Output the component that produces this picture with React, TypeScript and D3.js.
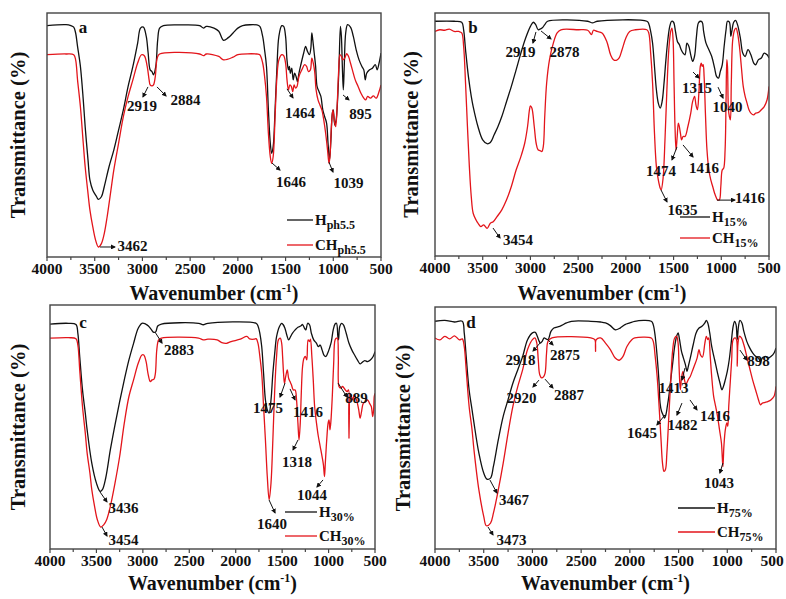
import React from 'react';
import * as d3 from 'd3';

type Pt = [number, number];
// [wavenumber (cm-1), transmittance (relative %)]
const aH: Pt[] = [[4000,94.8],[3800,95.2],[3750,94.8],[3720,94.2],[3700,91.8],[3680,86.3],[3650,78.1],[3620,64.4],[3600,53.4],[3570,39.7],[3550,31.5],[3520,27.4],[3480,24.7],[3462,23.6],[3430,24.7],[3400,28.8],[3350,37],[3300,43.8],[3250,52],[3200,60.3],[3150,69.9],[3100,78.1],[3050,87.7],[3020,93.8],[2990,94.2],[2960,90.4],[2940,83.6],[2919,76.7],[2900,76],[2884,74.7],[2860,78.1],[2840,89],[2820,93.8],[2780,94.8],[2600,95.1],[2400,94.8],[2360,93.8],[2330,94.5],[2250,93.8],[2200,92.5],[2150,88.8],[2100,89.9],[2050,91.8],[2000,93.8],[1950,94.8],[1800,95.1],[1770,94.5],[1740,90.4],[1720,84.9],[1700,78.1],[1680,60.3],[1660,46.6],[1646,42.5],[1630,45.2],[1610,60.3],[1590,78.1],[1570,90.4],[1540,94.8],[1520,94.5],[1500,90.4],[1485,80.8],[1470,76.7],[1460,78.1],[1450,75.3],[1435,77.4],[1420,72.6],[1405,75.3],[1390,74],[1375,71.9],[1360,75.3],[1340,78.8],[1310,83.6],[1290,86.3],[1270,84.2],[1250,82.9],[1235,85.6],[1225,91.8],[1215,89],[1200,83.6],[1185,78.1],[1170,69.9],[1150,67.8],[1130,65.8],[1110,60.3],[1090,57.5],[1070,54.8],[1055,46.6],[1040,39.7],[1025,47.9],[1010,58.9],[1000,60.3],[985,54.1],[970,56.2],[955,64.4],[940,78.1],[925,94.5],[915,90.4],[905,78.1],[895,68.5],[885,78.1],[870,91.8],[850,95.2],[820,94.2],[790,90.4],[760,84.9],[730,80.8],[700,78.1],[680,76.7],[665,72.6],[650,75.3],[620,76.7],[590,77.4],[560,78.8],[540,76.7],[520,79.5],[500,83.6]];
const aCH: Pt[] = [[4000,82.9],[3800,83.2],[3720,82.9],[3700,80.8],[3680,72.6],[3650,61.6],[3620,46.6],[3600,37],[3570,26],[3550,19.2],[3520,12.3],[3490,6.8],[3462,4.1],[3430,5.5],[3400,9.6],[3370,16.4],[3330,27.4],[3300,35.6],[3250,46.6],[3200,57.5],[3150,65.8],[3100,72.6],[3050,79.5],[3010,82.9],[2980,82.5],[2950,78.1],[2930,72.6],[2919,70.5],[2900,70.1],[2884,70.5],[2865,74],[2845,81.5],[2820,83.2],[2400,83.2],[2360,82.5],[2330,83.2],[2200,82.2],[2150,80.8],[2050,81.9],[2000,82.9],[1800,83.2],[1770,82.9],[1740,79.5],[1720,74],[1700,65.8],[1680,50.7],[1660,41.1],[1646,38.4],[1630,41.1],[1610,57.5],[1590,74],[1570,80.8],[1540,82.9],[1520,82.5],[1500,79.5],[1485,72.6],[1470,68.5],[1455,70.5],[1440,69.9],[1425,67.8],[1410,70.5],[1395,69.2],[1380,69.9],[1360,74],[1330,76.7],[1300,78.8],[1280,78.1],[1260,76],[1240,76.7],[1225,81.5],[1210,79.5],[1195,76],[1180,68.5],[1160,64.4],[1140,62.3],[1120,60.3],[1100,56.2],[1080,50.7],[1060,43.8],[1045,38.4],[1035,41.1],[1020,53.4],[1005,60.3],[990,56.2],[975,53.4],[960,61.6],[945,75.3],[930,82.9],[915,82.2],[900,80.8],[880,81.5],[860,83.3],[840,82.2],[820,79.5],[800,76.7],[770,72.6],[740,69.9],[710,67.1],[680,65.1],[660,64.4],[640,65.8],[610,65.1],[580,66],[550,65.1],[520,67.8],[500,70.5]];

const bH: Pt[] = [[4000,96.6],[3800,96.6],[3720,96.2],[3700,93.1],[3680,84.9],[3650,73.9],[3620,65.7],[3600,61.5],[3550,53.3],[3500,47.8],[3454,46.2],[3420,46.7],[3380,49.9],[3340,53.3],[3300,57.4],[3250,63.6],[3200,69.8],[3150,76.6],[3100,83.5],[3050,89.7],[3000,94.5],[2970,96.2],[2945,95.2],[2919,93.1],[2900,93.4],[2878,93.8],[2850,95.2],[2820,96.6],[2400,96.6],[2350,95.9],[2300,96.6],[1780,96.6],[1760,95.6],[1740,92.4],[1720,87.6],[1700,78],[1680,68.4],[1660,62.9],[1640,60.9],[1620,63.6],[1600,71.2],[1580,80.8],[1560,89],[1540,94.5],[1520,96.6],[1500,96.2],[1480,92.4],[1460,88.3],[1440,87],[1420,84.9],[1400,83.5],[1380,82.8],[1360,87.6],[1340,86.3],[1320,82.8],[1300,80.1],[1280,82.3],[1260,90.4],[1240,95.9],[1220,96.6],[1200,96.2],[1185,92.4],[1160,87.6],[1130,84.9],[1100,82.1],[1070,77.3],[1050,73.9],[1030,73.2],[1010,76],[990,78.7],[970,86.3],[950,93.1],[935,96.6],[915,96.2],[900,90.4],[890,92.4],[870,96.2],[850,97],[830,95.2],[800,89.7],[775,83.5],[750,82.1],[720,84.9],[690,82.8],[660,79.4],[640,78.7],[610,80.8],[580,81.5],[550,83.5],[520,82.8],[500,81.5]];
const bCH: Pt[] = [[4000,92.4],[3950,93.1],[3900,92.9],[3850,93.4],[3800,92.4],[3750,92.4],[3720,91.8],[3700,86.3],[3680,71.2],[3660,53.3],[3640,36.8],[3620,24.5],[3600,17.6],[3570,14.8],[3550,13.5],[3520,12.1],[3490,12.8],[3454,11.4],[3420,13.5],[3390,14.1],[3350,16.2],[3300,19],[3250,23.1],[3200,28.6],[3150,35.4],[3100,40.9],[3060,46.4],[3030,53.3],[3010,60.2],[3000,61.8],[2985,60.9],[2960,53.3],[2940,46.4],[2920,43.7],[2900,43.4],[2880,43],[2865,45.1],[2850,57.4],[2830,71.2],[2800,80.8],[2760,87.6],[2720,91.8],[2680,93.1],[2500,93.1],[2400,92.9],[2360,91.1],[2340,92.9],[2300,92.4],[2250,91.8],[2200,88.3],[2160,82.8],[2130,80.8],[2100,80.5],[2070,81.5],[2040,84.9],[2000,89.7],[1960,92.4],[1900,93.1],[1780,93.1],[1760,91.8],[1740,83.5],[1720,71.2],[1700,50.5],[1680,36.8],[1660,31.3],[1640,27.9],[1630,27.2],[1610,32],[1590,47.8],[1570,68.4],[1550,84.9],[1530,92.4],[1517,93.8],[1505,88.9],[1495,71.2],[1485,53.3],[1474,43.7],[1462,49.2],[1450,54.7],[1440,53.3],[1428,50.5],[1416,47.8],[1400,49.2],[1380,49.2],[1350,53.3],[1320,58.8],[1300,63.6],[1280,65.7],[1265,62.1],[1250,60.2],[1235,67],[1220,78],[1210,79.4],[1200,78],[1190,78.7],[1180,73.9],[1165,57.4],[1150,43.7],[1130,35.4],[1110,31.3],[1090,28.6],[1070,25.8],[1050,23.8],[1040,23.1],[1020,23.1],[1005,28.6],[990,35.4],[975,36.1],[960,43.7],[950,64.3],[942,80.8],[935,78],[925,60.2],[915,57.4],[905,56],[895,71.2],[880,89],[860,93.1],[845,93.8],[830,91.8],[810,86.3],[790,78],[770,69.8],[750,65.7],[730,62.9],[710,60.2],[690,58.8],[660,58.1],[640,58.8],[610,59.1],[580,60.2],[550,61.5],[520,64.3],[500,69.8]];

const cH: Pt[] = [[4000,92.2],[3800,92.5],[3720,92],[3700,88.4],[3680,78.9],[3650,65.2],[3620,55.7],[3600,48.8],[3550,35.2],[3500,27],[3460,23.6],[3436,24.3],[3400,29.1],[3350,40.7],[3300,50.9],[3250,60.4],[3200,69.3],[3150,77.5],[3100,84.3],[3050,90.5],[3010,92.5],[2970,92.2],[2940,91.4],[2910,90],[2883,88.8],[2860,89.1],[2840,91.4],[2800,92.2],[2400,92.5],[2350,91.9],[2300,92.5],[1780,92.5],[1760,91.4],[1740,88.4],[1720,83],[1700,72],[1680,61.1],[1660,57],[1640,55.7],[1620,61.1],[1600,72],[1580,80.2],[1560,87],[1530,91.1],[1505,92.5],[1490,92],[1470,90.5],[1450,87.7],[1430,85.7],[1410,87],[1390,88.4],[1360,89.8],[1330,90.9],[1300,91.4],[1280,92],[1260,90.5],[1245,89.8],[1225,92.5],[1205,91.9],[1185,88.4],[1160,85.7],[1130,84.3],[1110,82.9],[1090,83.6],[1070,81.6],[1050,79.5],[1030,78.9],[1010,80.2],[990,82.3],[970,85],[950,89.8],[930,92.2],[915,92.5],[900,87.1],[893,85.7],[880,91.1],[860,92.5],[840,91.9],[810,88.4],[780,84.3],[750,81.6],[720,79.5],[690,77.5],[660,75.9],[640,76.4],[610,77.2],[580,76.8],[550,77.5],[520,78.9],[500,80.9]];
const cCH: Pt[] = [[4000,86.4],[3800,86.6],[3720,86.2],[3700,83.6],[3680,73.4],[3650,58.4],[3620,47.5],[3600,39.3],[3570,31.1],[3550,24.3],[3520,17.5],[3490,12],[3454,9],[3420,10],[3390,12],[3350,17.5],[3300,27],[3250,37.9],[3200,51.6],[3150,62.5],[3100,69.3],[3050,76.1],[3010,79.5],[2990,79.5],[2965,76.8],[2945,72],[2920,68.6],[2900,69.3],[2880,69.6],[2865,72],[2850,81.6],[2830,85.7],[2800,86.4],[2400,86.4],[2350,85.7],[2300,86],[2200,85.7],[2150,84.6],[2100,84.3],[2050,85],[1950,86],[1880,87.1],[1850,86.1],[1800,86],[1780,86.2],[1760,84.3],[1740,78.9],[1720,72],[1700,58.4],[1680,44.7],[1660,29.7],[1640,20.2],[1620,27],[1600,44.7],[1580,65.2],[1560,78.9],[1540,85.7],[1520,86.4],[1505,84.3],[1495,78.9],[1485,72],[1475,67.9],[1462,70.6],[1445,73.4],[1430,70],[1415,68.6],[1400,67.3],[1380,65.2],[1360,65.2],[1345,61.1],[1330,51.6],[1318,44.7],[1305,51.6],[1295,62.5],[1280,74.8],[1265,78.2],[1250,78.9],[1235,77.5],[1220,85.7],[1205,85],[1195,86],[1180,78.9],[1165,69.3],[1150,58.4],[1130,51.6],[1110,46.1],[1090,42],[1070,37.9],[1055,34.4],[1044,29.7],[1035,35.2],[1020,44.7],[1005,51.6],[995,52.9],[985,48.8],[975,52.3],[960,62.5],[945,76.1],[930,85.7],[915,86.4],[905,86.4],[895,78.9],[888,66.6],[870,65.9],[850,66.6],[820,65.2],[800,64.5],[785,65.2],[780,45.4],[774,63.8],[760,63.1],[740,61.1],[725,63.1],[705,61.7],[690,59.8],[675,57],[660,53.6],[645,56.3],[625,59.8],[600,60.4],[580,61.1],[560,59.8],[540,58.4],[525,54.3],[515,57],[508,62.5],[500,63.8]];

const dH: Pt[] = [[4000,94.1],[3900,94.5],[3800,93.8],[3720,94.1],[3700,89.3],[3680,79.6],[3650,65.8],[3620,57.6],[3600,52.1],[3550,39.7],[3500,31.4],[3467,28.9],[3430,29.3],[3400,34.2],[3350,45.2],[3300,54.8],[3250,61.7],[3200,68.6],[3150,74.1],[3100,79.6],[3050,86.5],[3000,89.3],[2970,89.5],[2950,87.9],[2930,85.8],[2918,85.1],[2900,85.8],[2880,87.2],[2860,86.8],[2840,86.5],[2810,89.9],[2780,91.3],[2720,92],[2650,93.4],[2600,94.1],[2400,94.1],[2300,93.8],[2250,93.4],[2200,92.3],[2150,90.6],[2100,91.3],[2050,92.7],[2000,93.4],[1950,94.1],[1780,94.1],[1760,92.7],[1740,87.9],[1720,79.6],[1700,68.6],[1690,60.3],[1675,56.9],[1660,55.5],[1645,54.1],[1630,55.5],[1615,59],[1600,63.1],[1580,70],[1560,76.9],[1540,83.7],[1520,87.9],[1505,89.3],[1490,86.5],[1470,81.7],[1450,78.9],[1430,76.2],[1413,73.4],[1400,75.5],[1380,78.9],[1350,84.4],[1320,89.3],[1290,91.3],[1260,92],[1230,93.4],[1215,94.5],[1200,93.4],[1180,89.3],[1160,83.7],[1130,78.2],[1100,72.7],[1075,68.6],[1055,65.8],[1040,67.1],[1020,70],[1000,73.4],[980,78.2],[960,85.1],[940,92],[925,94.1],[910,92.7],[898,86.5],[885,92],[870,94.5],[850,93.4],[830,89.9],[800,85.8],[770,83.1],[740,81],[710,79.6],[680,78.9],[660,77.5],[640,78.9],[610,79.6],[580,78.9],[550,79.6],[520,81],[500,83.1]];
const dCH: Pt[] = [[4000,87.2],[3950,86.4],[3900,87.9],[3850,86.8],[3800,88.1],[3750,86.4],[3720,86.8],[3700,83.7],[3680,74.1],[3650,59],[3620,49.3],[3600,41],[3550,24.5],[3500,13.5],[3473,9.6],[3430,10.7],[3400,14.9],[3350,24.5],[3300,35.5],[3250,47.9],[3200,59],[3150,67.2],[3100,74.1],[3050,82.4],[3000,86.5],[2975,87.2],[2955,85.1],[2940,78.2],[2925,72],[2905,70.7],[2887,71.1],[2870,72.7],[2855,81],[2840,85.8],[2800,87.2],[2400,87.2],[2360,86.5],[2352,81.7],[2345,86.5],[2300,87.2],[2250,85.1],[2200,82.4],[2150,78.9],[2110,78],[2070,79.6],[2030,83.7],[1980,86.5],[1950,87.2],[1780,87.2],[1760,85.8],[1740,79.6],[1720,71.3],[1700,59],[1680,45.2],[1665,35.5],[1650,32.1],[1635,32.8],[1620,39.7],[1600,54.8],[1580,70],[1560,82.4],[1540,87.2],[1520,87.9],[1505,85.1],[1495,75.5],[1482,65.8],[1470,70.7],[1455,73.4],[1440,70],[1425,67.9],[1416,68.6],[1400,70],[1380,71.3],[1360,73.4],[1340,75.5],[1310,78.9],[1290,82.4],[1275,80.2],[1255,79.3],[1230,85.1],[1215,87.9],[1200,86.5],[1190,87.2],[1175,79.6],[1160,71.3],[1140,63.1],[1120,59],[1100,54.8],[1080,49.3],[1060,43.8],[1045,34],[1035,42.3],[1020,49.3],[1005,52.1],[995,50.7],[985,59],[970,68.6],[955,78.2],[940,86.5],[920,87.2],[905,86.5],[898,75.5],[890,85.1],[875,87.9],[855,87.2],[830,84.4],[800,79.6],[770,74.7],[740,69.9],[710,65.8],[680,61.7],[660,59.6],[640,60.3],[610,60.6],[580,61],[550,61.7],[520,63.1],[500,67.2]];

const xTicks = [4000, 3500, 3000, 2500, 2000, 1500, 1000, 500];
const xTickLabels = ['4000', '3500', '3000', '2500', '2000', '1500', '1000', '500'];
const minorTicks = [3750, 3250, 2750, 2250, 1750, 1250, 750];

// [label, wavenumber, value, arrow head dx, dy, text dx, dy]
type Ann = [string, number, number, number, number, number, number];
const aAnn: Ann[] = [
  ['2919', 2942, 69.7, -5, 10, -6, 24],
  ['2884', 2847, 69.7, 9, 9, 28.5, 18],
  ['1464', 1485, 68.9, 6, 9, 13, 29],
  ['895', 898, 66.4, 6, 5, 17.5, 24],
  ['1646', 1642, 38.5, 8, 7, 19, 24],
  ['1039', 1045, 38.9, 4, 10, 19.5, 26],
  ['3462', 3445, 4.1, 15, 0, 32.5, 4],
];
const bAnn: Ann[] = [
  ['2919', 2942, 92.2, -3, 11, -15.5, 25],
  ['2878', 2889, 92.6, 10, 8, 23.5, 26],
  ['1315', 1296, 75.7, 6, 6, 4, 21],
  ['1040', 1034, 69.5, 5, 11, 9.5, 25],
  ['1474', 1464, 44.9, -5, 13, -16, 29],
  ['1416', 1401, 45.7, 10, 12, 21, 28],
  ['1635', 1632, 27.2, 6, 12, 21.5, 25],
  ['1416', 1045, 23, 18, 0, 33, 3],
  ['3454', 3392, 11.5, 7, 10, 25, 17],
];
const cAnn: Ann[] = [
  ['2883', 2869, 88.9, 7, 11, 24, 23],
  ['3436', 3462, 23.4, 7, 10, 23.5, 21],
  ['3454', 3440, 9, 5, 9, 21.5, 18],
  ['1475', 1469, 68, -5, 14, -17, 30],
  ['1416', 1415, 65.6, 5, 11, 18, 28],
  ['1318', 1329, 44.7, -5, 10, -1, 27],
  ['1044', 1060, 28.3, -6, 7, -11, 20],
  ['889', 898, 68, 9, 14, 18.5, 20],
  ['1640', 1641, 20.1, 6, 13, 3, 29],
];
const dAnn: Ann[] = [
  ['2918', 2922, 85.1, -7, 8, -19.5, 22],
  ['2875', 2850, 86.8, 6, 6, 18, 21],
  ['2920', 2933, 69.8, -6, 7, -17.5, 23],
  ['2887', 2871, 70.2, 8, 9, 24, 21],
  ['3467', 3436, 28.5, 7, 13, 24, 25],
  ['3473', 3456, 9.1, 5, 8, 23.5, 18],
  ['1645', 1640, 55.4, -8, 10, -23, 23],
  ['1413', 1434, 74.8, -3, 12, -11.5, 25],
  ['1482', 1465, 60.3, -5, 12, 0.5, 27],
  ['1416', 1383, 61.6, 7, 10, 25, 21],
  ['1043', 1045, 35.5, -3, 10, -4, 25],
  ['898', 870, 82.2, 7, 10, 18.5, 16],
];

const seriesNames = ['H', 'CH'];
const panelLetters = ['a', 'b', 'c', 'd'];
const legendSubs = ['ph5.5', '15%', '30%', '75%'];

const FONT = "'Liberation Serif', 'Times New Roman', Times, serif";
const RED = '#e3151b';
const W = 786;
const H = 599;

interface PanelCfg {
  letter: string; sub: string; H: Pt[]; CH: Pt[]; ann: Ann[];
  x0: number; x1: number; top: number; bottom: number;
  titleY: number; yTitleX: number; letterDx: number; letterDy: number;
  legX: number; legW: number; legY1: number; legY2: number;
}

const panels: PanelCfg[] = [
  { letter: panelLetters[0], sub: legendSubs[0], H: aH, CH: aCH, ann: aAnn, x0: 47, x1: 381, top: 13, bottom: 257, titleY: 300, yTitleX: 25, letterDx: 36, letterDy: 20, legX: -94, legW: 26, legY1: -37, legY2: -12 },
  { letter: panelLetters[1], sub: legendSubs[1], H: bH, CH: bCH, ann: bAnn, x0: 435, x1: 769, top: 13, bottom: 256, titleY: 300, yTitleX: 418, letterDx: 38, letterDy: 20, legX: -89, legW: 30, legY1: -39, legY2: -18 },
  { letter: panelLetters[2], sub: legendSubs[2], H: cH, CH: cCH, ann: cAnn, x0: 50, x1: 375, top: 305, bottom: 549, titleY: 590, yTitleX: 25, letterDx: 33, letterDy: 23, legX: -90, legW: 32, legY1: -37, legY2: -13 },
  { letter: panelLetters[3], sub: legendSubs[3], H: dH, CH: dCH, ann: dAnn, x0: 435, x1: 776, top: 307, bottom: 549, titleY: 590, yTitleX: 410, letterDx: 36, letterDy: 21, legX: -98, legW: 37, legY1: -41, legY2: -17 },
];

function Panel({ p, idx }: { p: PanelCfg; idx: number }) {
  const x = d3.scaleLinear().domain([4000, 500]).range([p.x0, p.x1]);
  const y = d3.scaleLinear().domain([0, 100]).range([p.bottom, p.top]);
  const line = d3.line<Pt>().x(d => x(d[0])).y(d => y(d[1])).curve(d3.curveCatmullRom.alpha(0.5));
  const clipId = `clip-${idx}`;
  const cx = (p.x0 + p.x1) / 2;
  const cy = (p.top + p.bottom) / 2;
  return (
    <g>
      <clipPath id={clipId}>
        <rect x={p.x0} y={p.top} width={p.x1 - p.x0} height={p.bottom - p.top} />
      </clipPath>
      <g clipPath={`url(#${clipId})`}>
        <path d={line(p.H) || ''} fill="none" stroke="#111" strokeWidth={1.3} />
        <path d={line(p.CH) || ''} fill="none" stroke={RED} strokeWidth={1.3} />
      </g>
      <rect x={p.x0} y={p.top} width={p.x1 - p.x0} height={p.bottom - p.top} fill="none" stroke="#444" strokeWidth={1.4} />
      {xTicks.map(t => (
        <line key={`t${t}`} x1={x(t)} x2={x(t)} y1={p.bottom} y2={p.bottom + 4} stroke="#444" strokeWidth={1.2} />
      ))}
      {minorTicks.map(t => (
        <line key={`m${t}`} x1={x(t)} x2={x(t)} y1={p.bottom} y2={p.bottom + 3} stroke="#444" strokeWidth={1.2} />
      ))}
      {xTicks.map((t, i) => (
        <text key={`l${t}`} x={Math.min(x(t), W - 14)} y={p.bottom + 17} textAnchor="middle" fontFamily={FONT} fontWeight="bold" fontSize={15.5} fill="#111">{xTickLabels[i]}</text>
      ))}
      <text x={cx} y={p.titleY} textAnchor="middle" fontFamily={FONT} fontWeight="bold" fontSize={20} fill="#111">
        Wavenumber (cm<tspan dy={-8} fontSize={12}>-1</tspan><tspan dy={8}>)</tspan>
      </text>
      <text transform={`translate(${p.yTitleX},${cy}) rotate(-90)`} textAnchor="middle" fontFamily={FONT} fontWeight="bold" fontSize={20.5} fill="#111">Transmittance (%)</text>
      <text x={p.x0 + p.letterDx} y={p.top + p.letterDy} textAnchor="middle" fontFamily={FONT} fontWeight="bold" fontSize={17} fill="#111">{p.letter}</text>
      {[p.legY1, p.legY2].map((ly, i) => (
        <g key={`leg${i}`}>
          <line x1={p.x1 + p.legX} x2={p.x1 + p.legX + p.legW} y1={p.bottom + ly} y2={p.bottom + ly} stroke={i === 0 ? '#111' : RED} strokeWidth={1.3} />
          <text x={p.x1 + p.legX + p.legW + 2} y={p.bottom + ly + 5} fontFamily={FONT} fontWeight="bold" fontSize={15} fill="#111">
            {seriesNames[i]}<tspan dy={4} fontSize={12}>{p.sub}</tspan>
          </text>
        </g>
      ))}
      {p.ann.map((a, i) => {
        const tx = x(a[1]);
        const ty = y(a[2]);
        return (
          <g key={`a${i}`}>
            <line x1={tx} y1={ty} x2={tx + a[3]} y2={ty + a[4]} stroke="#111" strokeWidth={1} markerEnd="url(#arrow)" />
            <text x={tx + a[5]} y={ty + a[6]} textAnchor="middle" fontFamily={FONT} fontWeight="bold" fontSize={15} fill="#111">{a[0]}</text>
          </g>
        );
      })}
    </g>
  );
}

export default function App() {
  return (
    <svg width={W} height={H} style={{ position: 'absolute', left: 0, top: 0, background: '#fff' }}>
      <defs>
        <marker id="arrow" viewBox="0 0 10 10" refX="8" refY="5" markerWidth="5" markerHeight="5" orient="auto-start-reverse" markerUnits="userSpaceOnUse">
          <path d="M0,0 L10,5 L0,10 z" fill="#111" />
        </marker>
      </defs>
      <rect x={0} y={0} width={W} height={H} fill="#fff" />
      {panels.map((p, i) => <Panel key={i} p={p} idx={i} />)}
    </svg>
  );
}
